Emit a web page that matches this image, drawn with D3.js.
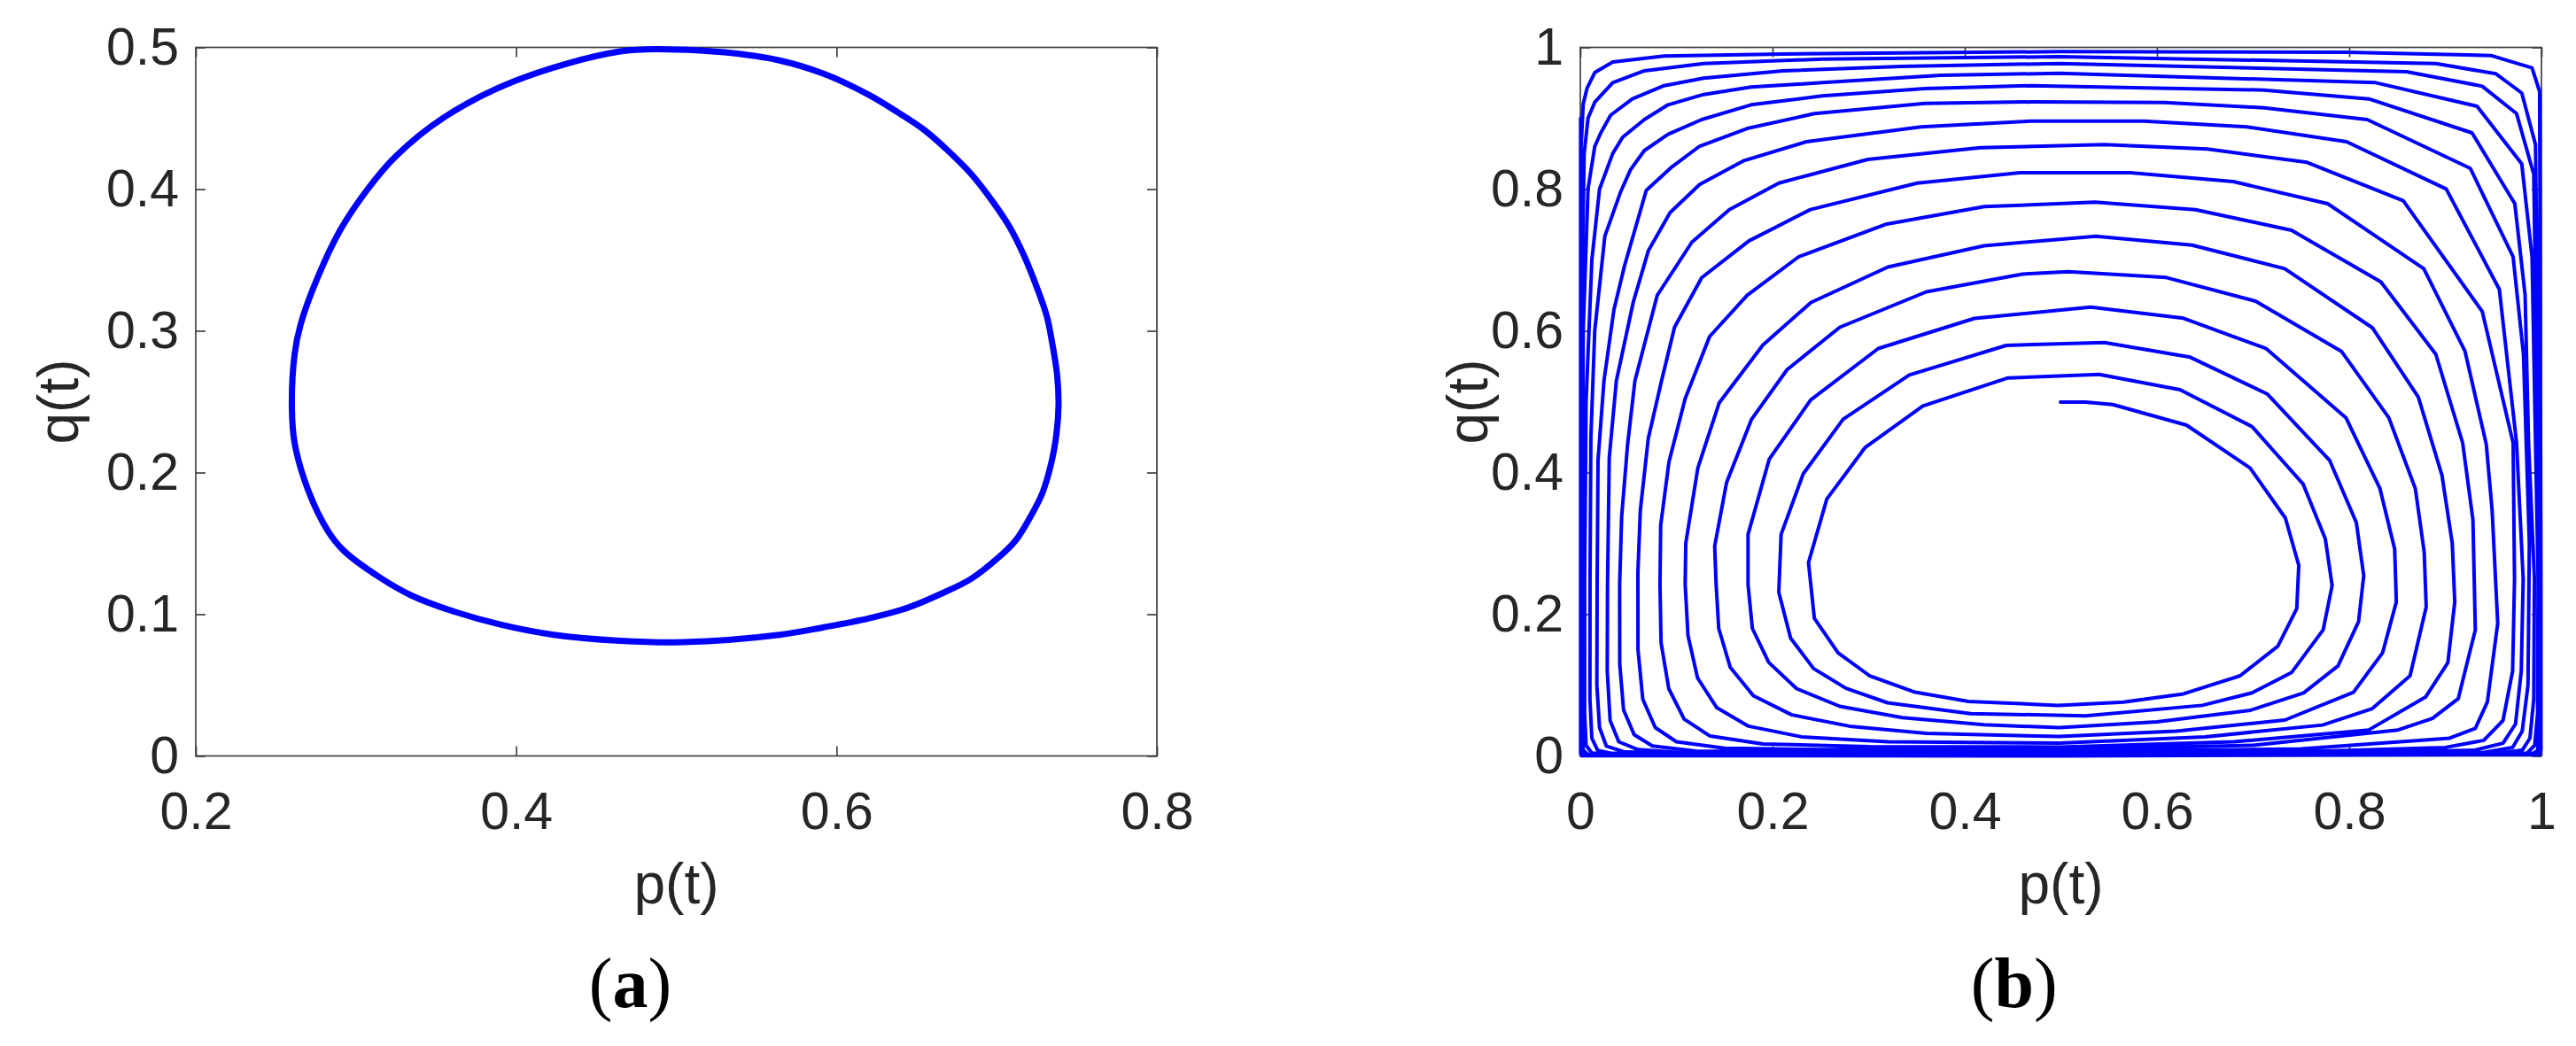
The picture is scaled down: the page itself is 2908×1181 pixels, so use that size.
<!DOCTYPE html>
<html>
<head>
<meta charset="utf-8">
<script src="https://cdn.jsdelivr.net/npm/d3@7"></script>
<style>
  html, body { margin: 0; padding: 0; background: #ffffff; }
  svg { display: block; }
</style>
</head>
<body>
<script>
// ---------------- DATA ----------------
// Panel (a): closed orbit, [p, q]
const orbitA = [
  [0.5000,0.4985],[0.5300,0.4965],[0.5644,0.4908],[0.5920,0.4814],[0.6197,0.4668],[0.6381,0.4543],
  [0.6547,0.4418],[0.6695,0.4272],[0.6842,0.4105],[0.6971,0.3918],[0.7082,0.3730],[0.7174,0.3522],
  [0.7248,0.3314],[0.7312,0.3105],[0.7349,0.2897],[0.7377,0.2689],[0.7386,0.2480],[0.7373,0.2272],
  [0.7340,0.2064],[0.7285,0.1855],[0.7211,0.1689],[0.7119,0.1522],[0.7008,0.1397],[0.6842,0.1251],
  [0.6658,0.1147],[0.6437,0.1043],[0.6197,0.0970],[0.5920,0.0908],[0.5644,0.0855],[0.5044,0.0803],
  [0.4649,0.0813],[0.4234,0.0855],[0.3913,0.0924],[0.3617,0.1017],[0.3345,0.1133],[0.3148,0.1260],
  [0.2926,0.1446],[0.2827,0.1584],[0.2700,0.1880],[0.2617,0.2209],[0.2600,0.2459],[0.2617,0.2834],
  [0.2654,0.3043],[0.2753,0.3355],[0.2901,0.3709],[0.3074,0.4001],[0.3247,0.4230],[0.3543,0.4501],
  [0.3987,0.4761],[0.4642,0.4970]
];

// Panel (b): spiral trajectory, one array per revolution, [p, q]
const rev0 = [[0.4995,0.4994],[0.5256,0.4994],[0.5539,0.4960],[0.6307,0.4669],[0.6968,0.4065],[0.7336,0.3356],
  [0.7475,0.2690],[0.7454,0.2080],[0.7257,0.1548],[0.6864,0.1131],[0.6275,0.0876],[0.5649,0.0760],[0.4970,0.0714],
  [0.4040,0.0769],[0.3484,0.0899],[0.3011,0.1131],[0.2682,0.1455],[0.2435,0.1941],[0.2374,0.2729],[0.2565,0.3627],
  [0.2965,0.4356],[0.3564,0.4940],[0.4450,0.5335]];
const rev1 = [[0.5398,0.5385],[0.6239,0.5169],[0.6989,0.4648],[0.7521,0.3835],[0.7751,0.3065],[0.7822,0.2405],
  [0.7729,0.1779],[0.7400,0.1177],[0.6989,0.0890],[0.6471,0.0714],[0.5256,0.0566],[0.4060,0.0598],[0.3197,0.0750],
  [0.2764,0.0955],[0.2427,0.1233],[0.2188,0.1663],[0.2065,0.2310],[0.2089,0.3127],[0.2319,0.3981],[0.2734,0.4752],
  [0.3423,0.5377],[0.4431,0.5794]];
const rev2 = [[0.5453,0.5835],[0.6346,0.5627],[0.7150,0.5106],[0.7797,0.4169],[0.8074,0.3294],[0.8151,0.2543],
  [0.8097,0.1895],[0.7883,0.1270],[0.7525,0.0890],[0.6972,0.0645],[0.6000,0.0480],[0.4986,0.0399],[0.4200,0.0440],
  [0.3350,0.0540],[0.2700,0.0700],[0.2250,0.0950],[0.1960,0.1320],[0.1790,0.1800],[0.1745,0.2419],[0.1745,0.3127],
  [0.1966,0.4190],[0.2396,0.5023],[0.3100,0.5750],[0.4100,0.6175]];
const rev3 = [[0.5310,0.6335],[0.6275,0.6177],[0.7132,0.5752],[0.7966,0.4773],[0.8320,0.3773],[0.8473,0.2919],
  [0.8490,0.2173],[0.8347,0.1455],[0.8044,0.0899],[0.7330,0.0506],[0.6200,0.0350],[0.4986,0.0274],[0.3600,0.0320],
  [0.2800,0.0420],[0.2200,0.0580],[0.1800,0.0850],[0.1560,0.1250],[0.1440,0.1800],[0.1413,0.2419],[0.1398,0.2960],
  [0.1521,0.3856],[0.1782,0.4752],[0.2150,0.5450],[0.2700,0.6050],[0.3600,0.6550],[0.4600,0.6800]];
const rev4 = [[0.5077,0.6835],[0.6096,0.6752],[0.7025,0.6419],[0.7919,0.5710],[0.8412,0.4773],[0.8688,0.3773],
  [0.8780,0.2877],[0.8801,0.2104],[0.8633,0.1131],[0.8240,0.0668],[0.7722,0.0436],[0.6500,0.0270],[0.4986,0.0182],
  [0.3200,0.0200],[0.2300,0.0270],[0.1750,0.0420],[0.1420,0.0680],[0.1220,0.1100],[0.1120,0.1700],[0.1091,0.2419],
  [0.1097,0.3002],[0.1223,0.4065],[0.1444,0.4981],[0.1900,0.5800],[0.2400,0.6400],[0.3200,0.6900],[0.4200,0.7200]];
const rev5 = [[0.5363,0.7335],[0.6364,0.7210],[0.7329,0.6877],[0.8240,0.6044],[0.8719,0.5065],[0.8965,0.3960],
  [0.9072,0.3002],[0.9098,0.2173],[0.9026,0.1316],[0.8794,0.0830],[0.8204,0.0367],[0.6800,0.0200],[0.4986,0.0126],
  [0.3000,0.0130],[0.1900,0.0170],[0.1350,0.0280],[0.1080,0.0520],[0.0920,0.0950],[0.0840,0.1600],[0.0829,0.2419],
  [0.0836,0.3252],[0.0922,0.4148],[0.1091,0.5044],[0.1345,0.5919],[0.1736,0.6502],[0.2271,0.7044],[0.3176,0.7502],
  [0.4204,0.7752]];
const rev6 = [[0.5356,0.7815],[0.6400,0.7710],[0.7400,0.7419],[0.8329,0.6690],[0.8901,0.5669],[0.9180,0.4419],
  [0.9287,0.3335],[0.9312,0.1779],[0.9134,0.0807],[0.8866,0.0529],[0.8508,0.0367],[0.7000,0.0150],[0.4986,0.0089],
  [0.2500,0.0090],[0.1500,0.0110],[0.1000,0.0200],[0.0780,0.0400],[0.0650,0.0800],[0.0600,0.1500],[0.0599,0.2585],
  [0.0624,0.3460],[0.0707,0.4481],[0.0845,0.5294],[0.0980,0.6050],[0.1263,0.6750],[0.1756,0.7270],[0.2394,0.7711],
  [0.3505,0.8085],[0.4575,0.8231]];
const rev7 = [[0.5721,0.8231],[0.6793,0.8106],[0.7776,0.7794],[0.8776,0.6877],[0.9205,0.5710],[0.9426,0.4398],
  [0.9487,0.3460],[0.9545,0.1872],[0.9437,0.0760],[0.9312,0.0390],[0.9044,0.0251],[0.7500,0.0100],[0.4986,0.0057],
  [0.1200,0.0070],[0.0750,0.0140],[0.0560,0.0300],[0.0450,0.0650],[0.0410,0.1300],[0.0409,0.2419],[0.0430,0.3377],
  [0.0492,0.4398],[0.0568,0.5294],[0.0800,0.6500],[0.1160,0.7250],[0.1550,0.7710],[0.2065,0.8085],[0.2991,0.8419],
  [0.4163,0.8585]];
const rev8 = [[0.5453,0.8627],[0.6525,0.8565],[0.7561,0.8377],[0.8562,0.7835],[0.9384,0.6273],[0.9705,0.4419],
  [0.9720,0.2500],[0.9700,0.1200],[0.9600,0.0500],[0.9400,0.0220],[0.9000,0.0120],[0.7500,0.0060],[0.4986,0.0038],
  [0.1000,0.0050],[0.0600,0.0090],[0.0400,0.0200],[0.0310,0.0500],[0.0280,0.1200],[0.0283,0.2419],[0.0301,0.4210],
  [0.0375,0.5294],[0.0550,0.6400],[0.0707,0.7127],[0.0934,0.7669],[0.1242,0.8065],[0.1695,0.8398],[0.2353,0.8669],
  [0.3546,0.8877],[0.4698,0.8960]];
const rev9 = [[0.5864,0.8960],[0.6936,0.8877],[0.7972,0.8669],[0.9009,0.8002],[0.9562,0.6585],[0.9741,0.4419],
  [0.9810,0.2500],[0.9790,0.1200],[0.9730,0.0450],[0.9600,0.0180],[0.9300,0.0080],[0.8000,0.0040],[0.4986,0.0025],
  [0.1000,0.0030],[0.0450,0.0060],[0.0270,0.0140],[0.0200,0.0400],[0.0172,0.1000],[0.0175,0.2419],[0.0184,0.4169],
  [0.0246,0.5294],[0.0350,0.6300],[0.0460,0.6919],[0.0686,0.7981],[0.0954,0.8315],[0.1242,0.8606],[0.1736,0.8856],
  [0.2435,0.9065],[0.3587,0.9210],[0.4698,0.9231]];
const rev10 = [[0.6078,0.9223],[0.7114,0.9148],[0.8187,0.8981],[0.9259,0.8294],[0.9705,0.7044],[0.9813,0.5669],
  [0.9874,0.3000],[0.9860,0.1000],[0.9800,0.0350],[0.9700,0.0120],[0.9400,0.0050],[0.8000,0.0025],[0.4986,0.0016],
  [0.0350,0.0030],[0.0180,0.0080],[0.0120,0.0250],[0.0100,0.0800],[0.0101,0.2500],[0.0110,0.4500],[0.0150,0.6000],
  [0.0255,0.7335],[0.0419,0.7960],[0.0522,0.8273],[0.0666,0.8544],[0.0913,0.8773],[0.1263,0.8981],[0.1777,0.9190],
  [0.2517,0.9315],[0.3587,0.9419],[0.4698,0.9460]];
const rev11 = [[0.6115,0.9423],[0.7114,0.9398],[0.8205,0.9273],[0.9277,0.8794],[0.9723,0.7794],[0.9830,0.6502],
  [0.9866,0.4419],[0.9927,0.2500],[0.9920,0.0800],[0.9880,0.0250],[0.9800,0.0080],[0.9500,0.0030],[0.4986,0.0010],
  [0.0120,0.0040],[0.0060,0.0150],[0.0045,0.0600],[0.0045,0.2500],[0.0060,0.5000],[0.0120,0.7000],[0.0200,0.8000],
  [0.0337,0.8502],[0.0440,0.8731],[0.0666,0.8981],[0.0913,0.9190],[0.1283,0.9335],[0.1777,0.9440],[0.2517,0.9502],
  [0.3752,0.9606],[0.4986,0.9635]];
const rev12 = [[0.8276,0.9502],[0.9330,0.9169],[0.9795,0.8356],[0.9902,0.7044],[0.9965,0.2500],[0.9960,0.0600],
  [0.9930,0.0150],[0.9850,0.0040],[0.4986,0.0006],[0.0080,0.0020],[0.0030,0.0080],[0.0020,0.0400],[0.0020,0.2500],
  [0.0030,0.6000],[0.0080,0.8000],[0.0150,0.8600],[0.0213,0.8794],[0.0316,0.9044],[0.0542,0.9273],[0.0872,0.9460],
  [0.1283,0.9565],[0.2106,0.9669],[0.3340,0.9731],[0.4986,0.9773]];
const rev13 = [[0.8598,0.9656],[0.9384,0.9452],[0.9741,0.9065],[0.9920,0.8210],[0.9980,0.2500],[0.9980,0.0400],
  [0.9960,0.0080],[0.9900,0.0020],[0.4986,0.0004],[0.0040,0.0015],[0.0015,0.0060],[0.0010,0.0300],[0.0010,0.6000],
  [0.0040,0.8500],[0.0080,0.9000],[0.0152,0.9231],[0.0337,0.9502],[0.0666,0.9669],[0.1283,0.9773],[0.2517,0.9835],
  [0.4986,0.9869]];
const rev14 = [[0.8901,0.9773],[0.9527,0.9627],[0.9795,0.9356],[0.9938,0.8627],[0.9990,0.2500],[0.9990,0.0200],
  [0.9970,0.0040],[0.4986,0.0002],[0.0020,0.0008],[0.0007,0.0040],[0.0005,0.0200],[0.0005,0.8500],[0.0030,0.9200],
  [0.0069,0.9419],[0.0152,0.9648],[0.0337,0.9794],[0.0872,0.9877],[0.2106,0.9906],[0.4986,0.9940]];
const rev15 = [[0.7972,0.9931],[0.9473,0.9885],[0.9902,0.9710],[0.9981,0.9377],[0.9995,0.2500],[0.9995,0.0100],
  [0.9980,0.0020],[0.4986,0.0001],[0.0010,0.0004],[0.0003,0.0030],[0.0003,0.9000]];

// Axis ticks / labels
const ticksA_x = [0.2, 0.4, 0.6, 0.8];
const ticksA_y = [0, 0.1, 0.2, 0.3, 0.4, 0.5];
const ticksB_x = [0, 0.2, 0.4, 0.6, 0.8, 1];
const ticksB_y = [0, 0.2, 0.4, 0.6, 0.8, 1];
const xLabel = "p(t)";
const yLabel = "q(t)";
const panelLetters = ["a", "b"];

// ---------------- DRAWING ----------------
const W = 2908, H = 1181;
const svg = d3.select("body").append("svg").attr("width", W).attr("height", H)
  .style("background", "#fff");
svg.append("rect").attr("width", W).attr("height", H).attr("fill", "#fff");

const TOP = 53.5, BOT = 853.5;
const TEXT = "#262626", AXC = "#404040";
const sans = "'Liberation Sans', Arial, Helvetica, sans-serif";
const serif = "'Liberation Serif', 'Times New Roman', Times, serif";

function panel(cfg) {
  const x = d3.scaleLinear().domain(cfg.xDom).range([cfg.left, cfg.right]);
  const y = d3.scaleLinear().domain(cfg.yDom).range([BOT, TOP]);
  const fmt = d => (d === 0 ? "0" : d === 1 ? "1" : d3.format(".1f")(d));
  const g = svg.append("g");

  const styleAxis = sel => {
    sel.selectAll("path.domain").remove();
    sel.selectAll(".tick line").attr("stroke", AXC).attr("stroke-width", 1.7);
    sel.selectAll(".tick text").attr("fill", TEXT).style("font-family", sans).style("font-size", "59px");
  };

  g.append("g").attr("transform", `translate(0,${BOT})`)
    .call(d3.axisBottom(x).tickValues(cfg.xt).tickFormat(fmt).tickSizeInner(-11).tickSizeOuter(0).tickPadding(41))
    .call(styleAxis);
  g.append("g").attr("transform", `translate(0,${TOP})`)
    .call(d3.axisTop(x).tickValues(cfg.xt).tickFormat("").tickSizeInner(-11).tickSizeOuter(0))
    .call(styleAxis);
  g.append("g").attr("transform", `translate(${cfg.left},0)`)
    .call(d3.axisLeft(y).tickValues(cfg.yt).tickFormat(fmt).tickSizeInner(-11).tickSizeOuter(0).tickPadding(19))
    .call(styleAxis);
  g.append("g").attr("transform", `translate(${cfg.right},0)`)
    .call(d3.axisRight(y).tickValues(cfg.yt).tickFormat("").tickSizeInner(-11).tickSizeOuter(0))
    .call(styleAxis);
  g.selectAll("text").attr("font-family", null);

  g.append("rect").attr("x", cfg.left).attr("y", TOP)
    .attr("width", cfg.right - cfg.left).attr("height", BOT - TOP)
    .attr("fill", "none").attr("stroke", AXC).attr("stroke-width", 1.7);

  const line = d3.line().x(d => x(d[0])).y(d => y(d[1])).curve(cfg.curve);
  g.append("path").datum(cfg.data).attr("d", line)
    .attr("fill", "none").attr("stroke", "#0000ff").attr("stroke-width", cfg.lw)
    .attr("stroke-linejoin", "round").attr("stroke-linecap", "round");

  // axis labels
  g.append("text").attr("x", (cfg.left + cfg.right) / 2).attr("y", 1020)
    .attr("text-anchor", "middle").attr("fill", TEXT)
    .style("font-family", sans).style("font-size", "64px").text(xLabel);
  g.append("text").attr("transform", `translate(${cfg.ylabX},${(TOP + BOT) / 2}) rotate(-90)`)
    .attr("text-anchor", "middle").attr("fill", TEXT)
    .style("font-family", sans).style("font-size", "64px").text(yLabel);

  // panel letter
  const t = g.append("text").attr("x", cfg.letterX).attr("y", 1137)
    .attr("text-anchor", "middle").attr("fill", "#000")
    .style("font-family", serif).style("font-size", "80px");
  t.append("tspan").text("(");
  t.append("tspan").style("font-weight", "bold").text(cfg.letter);
  t.append("tspan").text(")");
}

panel({
  left: 221, right: 1306, xDom: [0.2, 0.8], yDom: [0, 0.5],
  xt: ticksA_x, yt: ticksA_y, data: orbitA, lw: 7, curve: d3.curveCatmullRomClosed,
  ylabX: 88, letterX: 711.5, letter: panelLetters[0]
});

const spiral = [].concat(rev0, rev1, rev2, rev3, rev4, rev5, rev6, rev7, rev8,
  rev9, rev10, rev11, rev12, rev13, rev14, rev15);

panel({
  left: 1784, right: 2869, xDom: [0, 1], yDom: [0, 1],
  xt: ticksB_x, yt: ticksB_y, data: spiral, lw: 4, curve: d3.curveLinear,
  ylabX: 1679, letterX: 2273.7, letter: panelLetters[1]
});
</script>
</body>
</html>
